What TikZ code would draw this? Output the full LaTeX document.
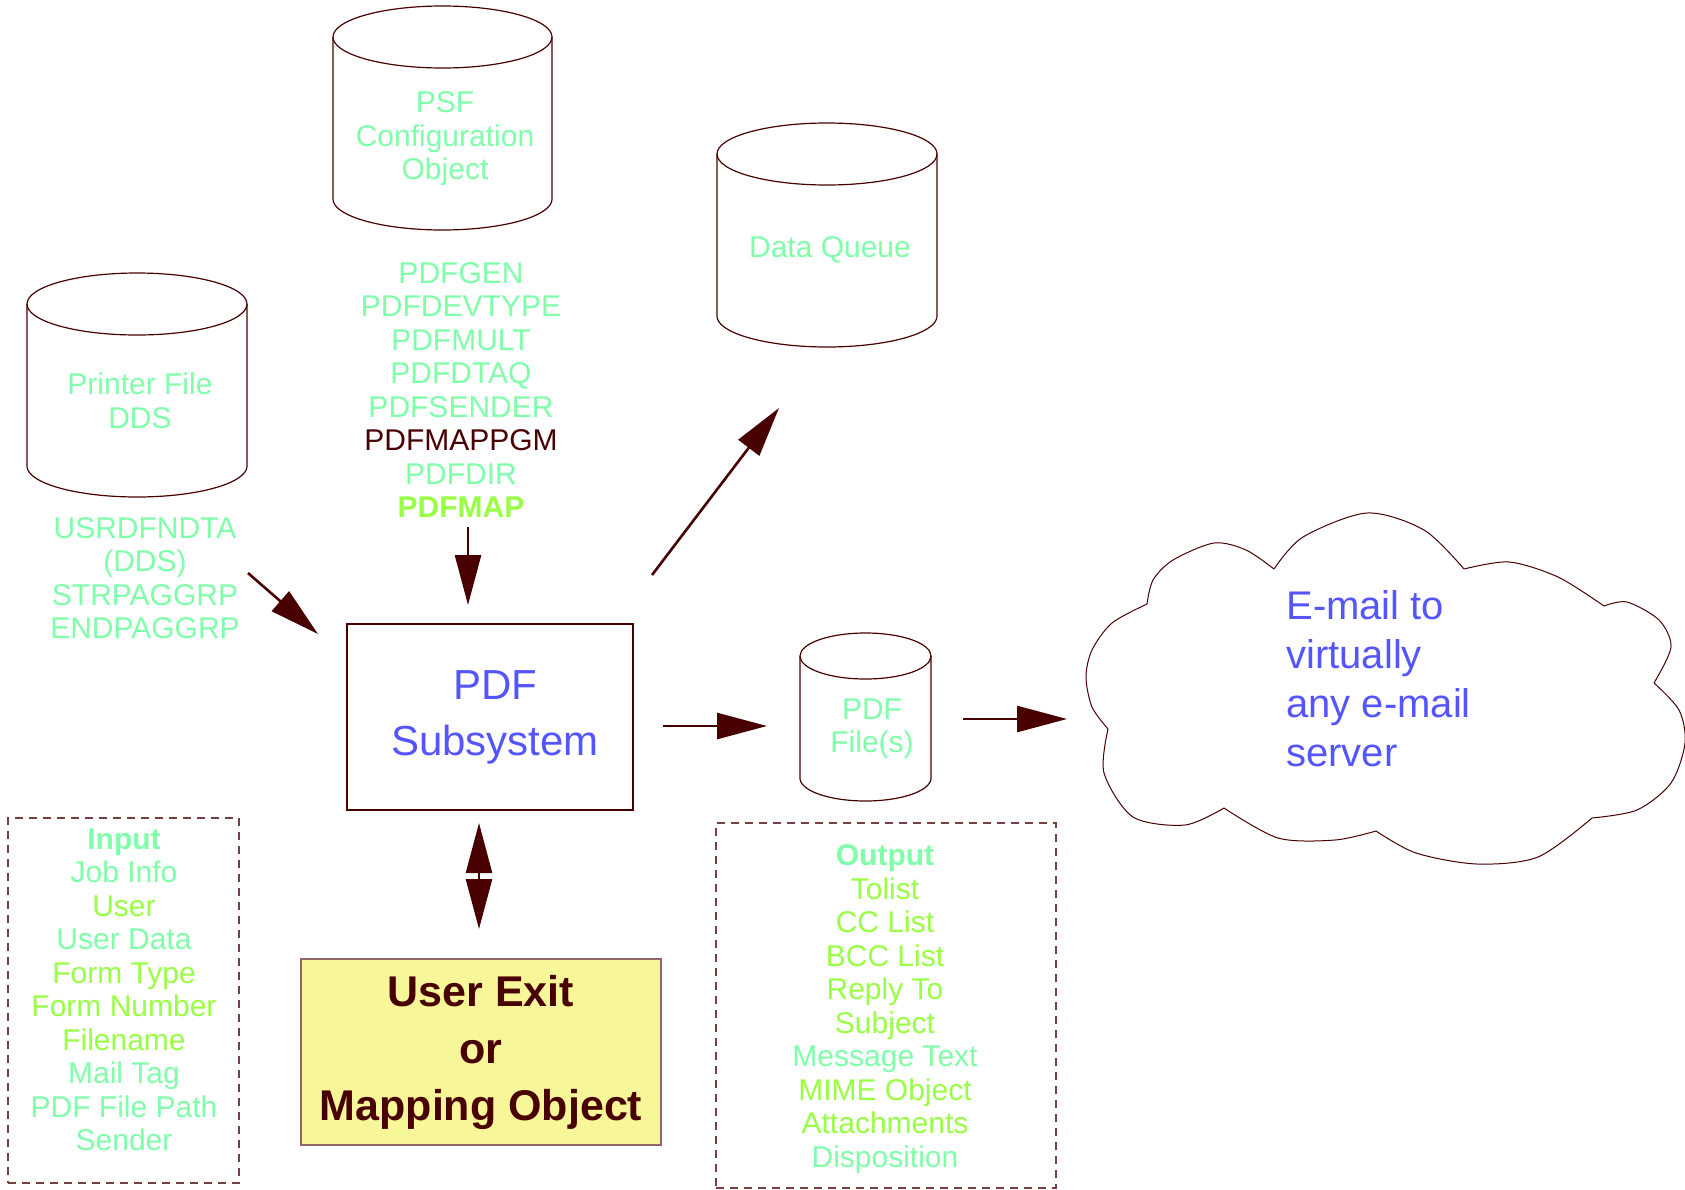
\documentclass[tikz,border=0pt]{standalone}
\usepackage{fontspec}
\setmainfont{Liberation Sans}
\usetikzlibrary{arrows.meta}
\definecolor{mint}{RGB}{128,255,170}
\definecolor{lime}{RGB}{153,255,68}
\definecolor{ink}{RGB}{72,0,0}
\definecolor{sysblue}{RGB}{85,85,255}
\definecolor{pale}{RGB}{247,247,153}
\tikzset{
  outline/.style={draw=ink, line width=0.6pt},
  listtext/.style={font=\fontsize{15}{16.75}\selectfont, align=center, inner sep=0pt, text=mint},
  bigarrow/.style={draw=ink, line width=1.3pt, -{Triangle[length=25pt,width=13pt]}},
  dashbox/.style={draw=ink!75, dash pattern=on 4pt off 3pt, line width=0.6pt, inner sep=0pt},
}
% store drum: centre x, top y, bottom y, x radius, y radius
\newcommand{\drumstore}[5]{%
  \draw[outline] (#1,#2) ellipse [x radius=#4, y radius=#5];
  \draw[outline] (#1-#4,#2) -- (#1-#4,#3)
    -- plot[domain=180:0, samples=60] ({#1+#4*cos(\x)},{#3+#5*sin(\x)}) -- (#1+#4,#2);
}
\begin{document}
\begin{tikzpicture}[x=0.5pt,y=-0.5pt]
\useasboundingbox (0,0) rectangle (1685,1189);
% stores
\drumstore{442.5}{37}{199}{109.5}{31}
\node[listtext] (psftext) at (445,139) {PSF\\Configuration\\Object};
\drumstore{137}{304}{466}{110}{31}
\node[listtext] (prttext) at (140,401) {Printer File\\DDS};
\drumstore{827}{154}{316}{110}{31}
\node[listtext] (dtaqtext) at (830,250) {Data Queue};
\drumstore{865.5}{656}{778}{65.5}{23}
\node[listtext] (pdfftext) at (872,729) {PDF\\File(s)};
% keyword lists
\node[listtext] (ddslist) at (145,578) {USRDFNDTA\\(DDS)\\STRPAGGRP\\ENDPAGGRP};
\node[listtext] (psflist) at (461,390) {PDFGEN\\PDFDEVTYPE\\PDFMULT\\PDFDTAQ\\PDFSENDER\\
  \textcolor{ink}{PDFMAPPGM}\\PDFDIR\\\textcolor{lime}{\bfseries PDFMAP}};
% main boxes
\node[draw=ink, line width=0.6pt, minimum width=143pt, minimum height=93pt, inner sep=0pt] (sub) at (490,717) {};
\node[text=sysblue, font=\fontsize{21}{28}\selectfont, align=center, inner sep=0pt] (subtext) at (495,717) {PDF\\Subsystem};
\node[draw=ink!60, fill=pale, line width=0.6pt, minimum width=180pt, minimum height=93pt, inner sep=0pt,
  text=ink, font=\bfseries\fontsize{21.5}{28.5}\selectfont, align=center] (exit) at (481,1052) {User Exit\\or\\Mapping Object};
% input / output
\node[dashbox, minimum width=115.5pt, minimum height=182.5pt] (inbox) at (123.5,1000.5) {};
\node[listtext] (inlist) at (124,990) {{\bfseries Input}\\Job Info\\\textcolor{lime}{User}\\User Data\\
  \textcolor{lime}{Form Type}\\\textcolor{lime}{Form Number}\\\textcolor{lime}{Filename}\\Mail Tag\\PDF File Path\\Sender};
\node[dashbox, minimum width=170pt, minimum height=182.5pt] (outbox) at (886,1005.5) {};
\node[listtext, text=lime] (outlist) at (885,1009) {\textcolor{mint}{\bfseries Output}\\Tolist\\CC List\\BCC List\\Reply To\\Subject\\
  \textcolor{mint}{Message Text}\\MIME Object\\Attachments\\\textcolor{mint}{Disposition}};
% cloud
\draw[draw=ink, line width=0.5pt]
  plot[smooth] coordinates {(1108,729) (1092,707) (1086,677) (1092,650) (1112,623) (1147,604)}
  plot[smooth] coordinates {(1147,604) (1153,580) (1173,560) (1214,543) (1246,550) (1274,569)}
  plot[smooth] coordinates {(1274,569) (1303,537) (1367,513) (1424,530) (1464,569)}
  plot[smooth] coordinates {(1464,569) (1509,562) (1558,577) (1604,606)}
  plot[smooth] coordinates {(1604,606) (1627,602) (1659,620) (1671,647) (1654,683)}
  plot[smooth] coordinates {(1654,683) (1679,710) (1685,743) (1671,783) (1637,810) (1592,818)}
  plot[smooth] coordinates {(1592,818) (1538,857) (1477,864) (1416,853) (1376,831)}
  plot[smooth] coordinates {(1376,831) (1335,840) (1278,838) (1224,808)}
  plot[smooth] coordinates {(1224,808) (1185,825) (1133,817) (1104,773) (1108,729)};
\node[font=\fontsize{20}{24.5}\selectfont, text=sysblue, align=left, anchor=west, inner sep=0pt] (mailtext) at (1286,679)
  {E-mail to\\virtually\\any e-mail\\server};
% connectors
\coordinate (ddsend) at (248,573);
\coordinate (subin) at (318,634);
\coordinate (psfend) at (468,527);
\coordinate (subtop) at (468,605);
\coordinate (subout) at (652,575);
\coordinate (dtaqin) at (779,408);
\coordinate (subright) at (663,726);
\coordinate (pdffin) at (767,726);
\coordinate (pdffout) at (963,719);
\coordinate (cloudin) at (1067,719);
\coordinate (subbot) at (479,823);
\coordinate (exittop) at (479,929);
\draw[bigarrow] (ddsend) -- (subin);
\draw[bigarrow] (psfend) -- (subtop);
\draw[bigarrow] (subout) -- (dtaqin);
\draw[bigarrow] (subright) -- (pdffin);
\draw[bigarrow] (pdffout) -- (cloudin);
\draw[bigarrow, {Triangle[length=25pt,width=13pt]}-{Triangle[length=25pt,width=13pt]}] (subbot) -- (exittop);
\end{tikzpicture}
\end{document}
